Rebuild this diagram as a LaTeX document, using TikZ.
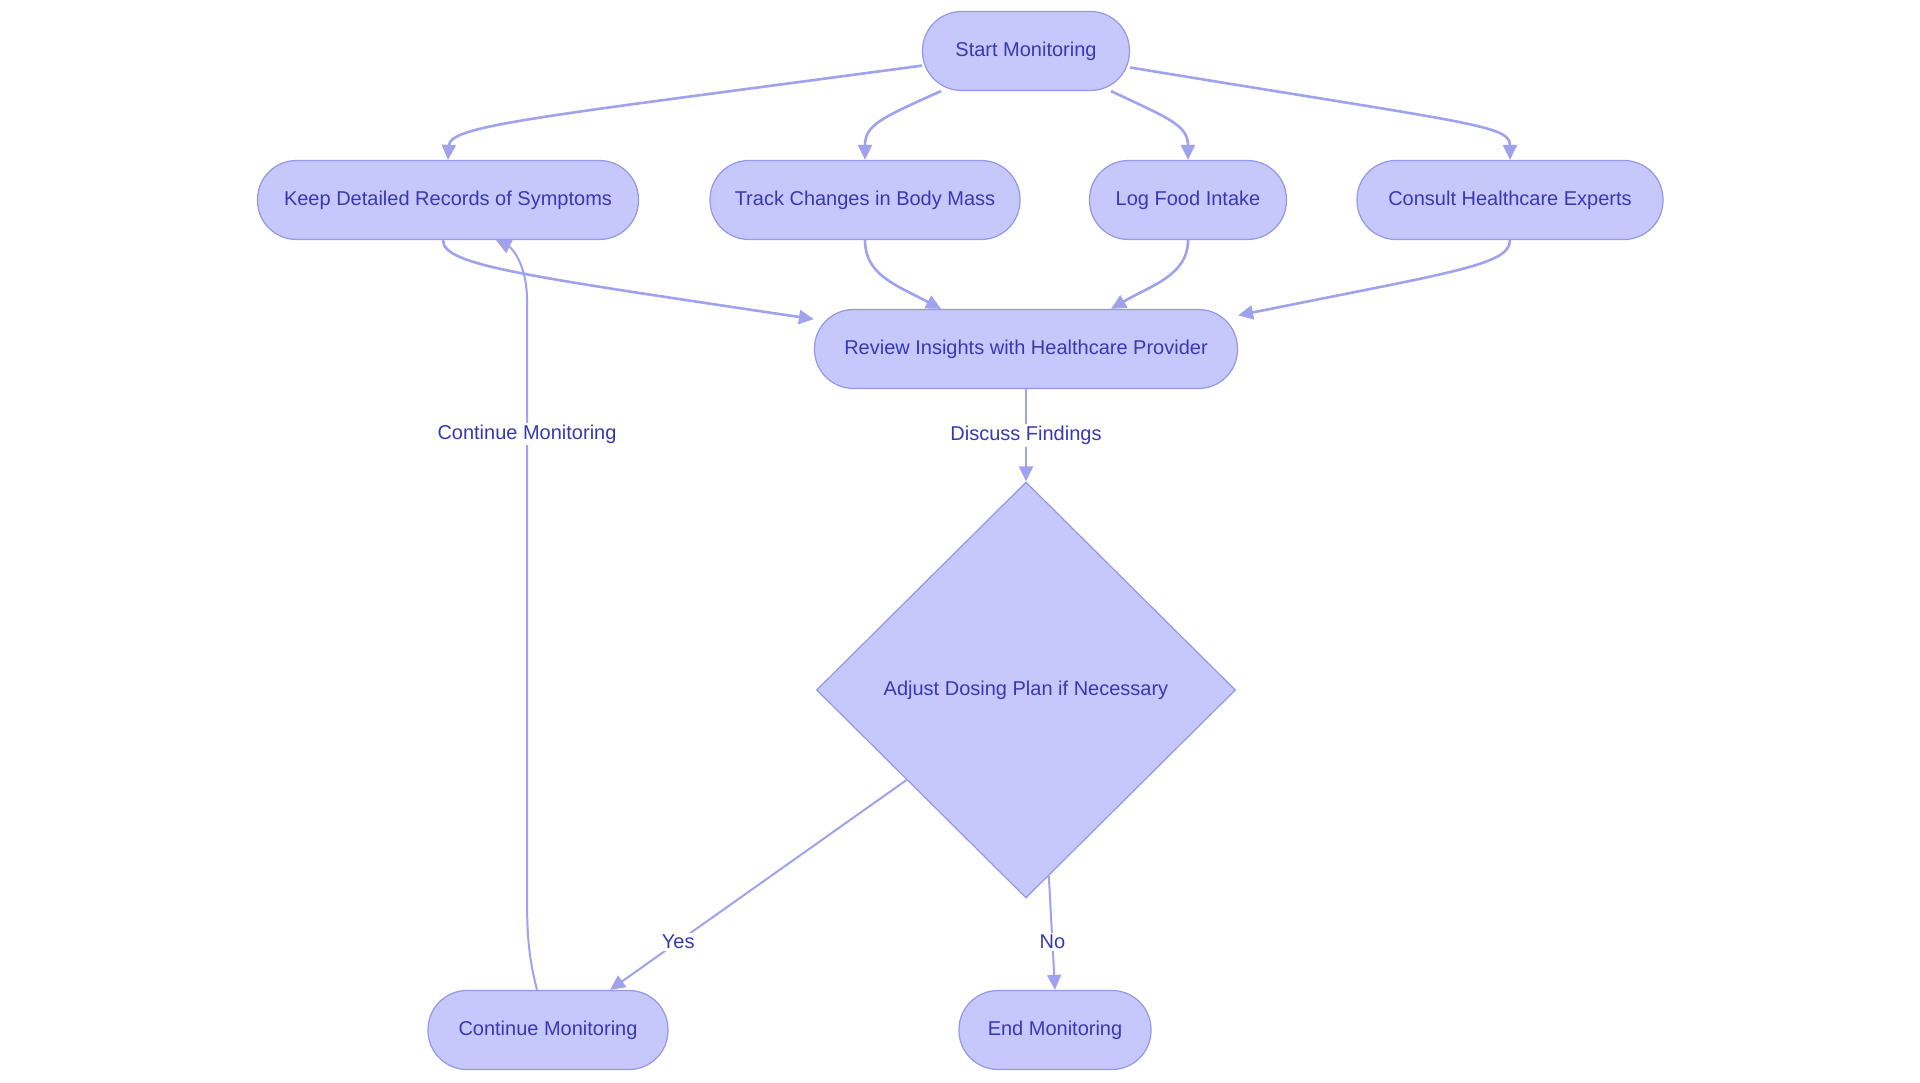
\documentclass[tikz,border=0pt]{standalone}
\usepackage{fontspec}
\setmainfont{Liberation Sans}
\usetikzlibrary{shapes.geometric,arrows.meta}
\definecolor{boxfill}{RGB}{198,200,252}
\definecolor{boxline}{RGB}{148,150,232}
\definecolor{flowline}{RGB}{160,162,238}
\definecolor{boxtext}{RGB}{56,56,178}
\begin{document}
\begin{tikzpicture}[x=1pt,y=-1pt,
    font=\fontsize{20}{24}\selectfont,
    >={Triangle[length=15pt,width=14pt]},
    pill/.style={draw=boxline,fill=boxfill,text=boxtext,line width=1.2pt,rounded corners=39pt,minimum height=79pt,inner xsep=20pt},
    decide/.style={diamond,draw=boxline,fill=boxfill,text=boxtext,line width=1.2pt,minimum width=419pt,minimum height=416pt,inner sep=0pt},
    flow/.style={draw=flowline,line width=2.6pt},
    thinflow/.style={draw=flowline,line width=2pt},
    lbl/.style={fill=white,text=boxtext,inner sep=2pt}]
                \useasboundingbox (0,0) rectangle (1920,1083);
                \node[pill,minimum width=207pt] (start) at (1026,51) {Start Monitoring};
                \node[pill,minimum width=381pt] (keep) at (448,200) {Keep Detailed Records of Symptoms};
                \node[pill,minimum width=310pt] (track) at (865,200) {Track Changes in Body Mass};
                \node[pill,minimum width=197pt] (log) at (1188,200) {Log Food Intake};
                \node[pill,minimum width=306pt] (consult) at (1510,200) {Consult Healthcare Experts};
                \node[pill,minimum width=423pt] (review) at (1026,349) {Review Insights with Healthcare Provider};
                \node[decide] (adjust) at (1026,690) {Adjust Dosing Plan if Necessary};
                \node[pill,minimum width=240pt] (cont) at (548,1030) {Continue Monitoring};
                \node[pill,minimum width=192pt] (endm) at (1055,1030) {End Monitoring};

                \draw[->,flow] (start.188) .. controls (540,117) and (450,125) .. (keep.north);
                \draw[->,flow] ([xshift=-85pt]start.south) .. controls (881,118) and (865,125) .. (track.north);
                \draw[->,flow] ([xshift=85pt]start.south) .. controls (1168,118) and (1188,125) .. (log.north);
                \draw[->,flow] (start.351) .. controls (1473,124) and (1510,125) .. (consult.north);
                \draw[->,flow] ([xshift=-5pt]keep.south) .. controls (443,265) and (518,275) .. (review.172);
                \draw[->,flow] (track.south) .. controls (865,275) and (896,285) .. ([xshift=-85pt]review.north);
                \draw[->,flow] (log.south) .. controls (1188,275) and (1152,285) .. ([xshift=85pt]review.north);
                \draw[->,flow] (consult.south) .. controls (1510,265) and (1453,272) .. (review.9);
                \draw[->,thinflow] (review.south) -- node[lbl] {Discuss Findings} (adjust.north);
                \draw[->,thinflow] (adjust.217) -- node[lbl,pos=0.77] {Yes} ([xshift=62pt]cont.north);
                \draw[->,thinflow] (adjust.277) -- node[lbl,pos=0.58] {No} (endm.north);
                \draw[->,thinflow] ([xshift=-11pt]cont.north) .. controls (529,958) and (527,938) .. (527,896)
                    -- node[lbl,pos=0.775] {Continue Monitoring} (527,300)
                    .. controls (527,265) and (512,248) .. ([xshift=48pt]keep.south);
            \end{tikzpicture}
\end{document}
